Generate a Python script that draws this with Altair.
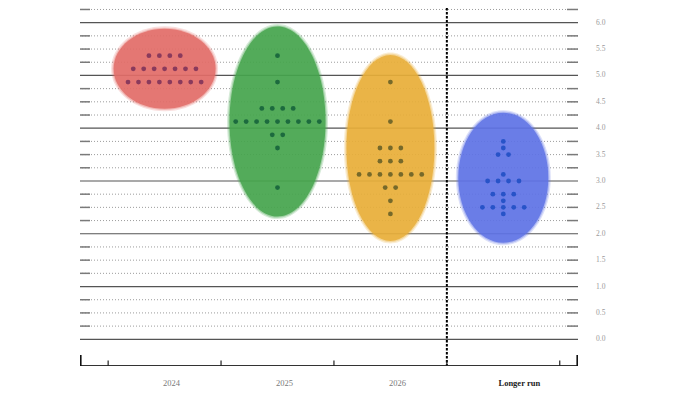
import altair as alt
import pandas as pd
import numpy as np

# ---------------- data ----------------
categories = ["2024", "2025", "2026", "Longer run"]

rates_2024 = [5.375, 5.125, 4.875]
counts_2024 = [4, 7, 8]

rates_2025 = [5.375, 4.875, 4.375, 4.125, 3.875, 3.625, 2.875]
counts_2025 = [1, 1, 4, 9, 2, 1, 1]

rates_2026 = [4.875, 4.125, 3.625, 3.375, 3.125, 2.875, 2.625, 2.375]
counts_2026 = [1, 1, 3, 3, 7, 2, 1, 1]

rates_lr = [3.75, 3.625, 3.5, 3.125, 3.0, 2.75, 2.625, 2.5, 2.375]
counts_lr = [1, 1, 2, 1, 4, 3, 1, 5, 1]

y_tick_labels = [0.0, 0.5, 1.0, 1.5, 2.0, 2.5, 3.0, 3.5, 4.0, 4.5, 5.0, 5.5, 6.0]

# ---------------- styles ----------------
ellipse_fill = ["#e26c67", "#45a44c", "#e8ae38", "#5e72e5"]
dot_color = ["#8a3a5c", "#1c6a3e", "#76692a", "#2753c8"]
ellipse_rx_px = [51, 48, 44, 45]
ellipse_ry_px = [40, 95, 93, 65]

UNIT_PX = 112.9          # pixels per category step
DOT_STEP_PX = 10.45      # horizontal spacing of dots
W, H = 498, 358
x_dom = [-0.7493, 3.6616]
y_dom = [-0.506, 6.278]

xs = alt.Scale(domain=x_dom, nice=False, zero=False)
ys = alt.Scale(domain=y_dom, nice=False, zero=False)

series = [(rates_2024, counts_2024), (rates_2025, counts_2025),
          (rates_2026, counts_2026), (rates_lr, counts_lr)]

# dots table
rows = []
for i, (rs, cs) in enumerate(series):
    for r, n in zip(rs, cs):
        for k in range(n):
            rows.append({"cat": categories[i],
                         "x": i + (k - (n - 1) / 2) * DOT_STEP_PX / UNIT_PX,
                         "rate": r, "color": dot_color[i]})
dots = pd.DataFrame(rows)


def ell_path(rx, ry):
    R = max(rx, ry)
    a, b = rx / R, ry / R
    return f"M {-a:.4f} 0 A {a:.4f} {b:.4f} 0 1 1 {a:.4f} 0 A {a:.4f} {b:.4f} 0 1 1 {-a:.4f} 0 Z"


erows = []
for i, (rs, cs) in enumerate(series):
    cy = (max(rs) + min(rs)) / 2
    rx, ry = ellipse_rx_px[i], ellipse_ry_px[i]
    for grow, op in [(2.5, 0.22), (1.2, 0.35), (0, 0.85)]:
        erows.append({"x": i, "y": cy, "fill": ellipse_fill[i], "op": op, "grow": grow,
                      "path": ell_path(rx + grow, ry + grow),
                      "size": (2 * (max(rx, ry) + grow)) ** 2})
ells = pd.DataFrame(erows)

# grid lines
grid_vals = np.arange(0, 6.26, 0.25)
grid = pd.DataFrame({"v": grid_vals, "solid": [float(v).is_integer() for v in grid_vals]})
dotted = grid[~grid["solid"]]
solid = grid[grid["solid"]]

dotted_layer = alt.Chart(dotted).mark_rule(color="#9c9c9c", strokeWidth=1, strokeDash=[1, 2]).encode(
    y=alt.Y("v:Q", scale=ys, axis=None))
solid_layer = alt.Chart(solid).mark_rule(color="#555555", strokeWidth=1.2).encode(
    y=alt.Y("v:Q", scale=ys, axis=None))
stub_l = alt.Chart(dotted).mark_rule(color="#7a7a7a", strokeWidth=1.5).encode(
    y=alt.Y("v:Q", scale=ys, axis=None), x=alt.value(0), x2=alt.value(10))
stub_r = alt.Chart(dotted).mark_rule(color="#7a7a7a", strokeWidth=1.5).encode(
    y=alt.Y("v:Q", scale=ys, axis=None), x=alt.value(W - 11), x2=alt.value(W))

ell_layer = alt.Chart(ells).mark_point(filled=True, strokeWidth=0).encode(
    x=alt.X("x:Q", scale=xs, axis=None), y=alt.Y("y:Q", scale=ys, axis=None),
    shape=alt.Shape("path:N", scale=None, legend=None),
    size=alt.Size("size:Q", scale=None, legend=None),
    color=alt.Color("fill:N", scale=None, legend=None),
    opacity=alt.Opacity("op:Q", scale=None, legend=None),
    order=alt.Order("grow:Q", sort="descending"))

divider = pd.DataFrame({"x": [len(categories) - 1.5]})
div_layer = alt.Chart(divider).mark_rule(color="black", strokeWidth=2, strokeDash=[2.5, 1.5]).encode(
    x=alt.X("x:Q", scale=xs, axis=None), y=alt.value(0), y2=alt.value(H))

dot_layer = alt.Chart(dots).mark_circle(size=23, opacity=1).encode(
    x=alt.X("x:Q", scale=xs, axis=None), y=alt.Y("rate:Q", scale=ys, axis=None),
    color=alt.Color("color:N", scale=None, legend=None))

base_line = alt.Chart(pd.DataFrame({"a": [0]})).mark_rule(color="#333333", strokeWidth=1.2).encode(
    y=alt.value(H - 0.5))

tick_pos = pd.DataFrame({"x": [i - 0.5 for i in range(len(categories) + 1)]})
ticks = alt.Chart(tick_pos).mark_rule(color="#222222", strokeWidth=1.2).encode(
    x=alt.X("x:Q", scale=xs, axis=None), y=alt.value(H - 5.5), y2=alt.value(H))
end_l = alt.Chart(pd.DataFrame({"a": [0]})).mark_rule(color="#111111", strokeWidth=1.6).encode(
    x=alt.value(0.8), y=alt.value(H - 11), y2=alt.value(H))
end_r = alt.Chart(pd.DataFrame({"a": [0]})).mark_rule(color="#111111", strokeWidth=1.6).encode(
    x=alt.value(W - 0.8), y=alt.value(H - 11), y2=alt.value(H))

# right-hand value labels
ylab = pd.DataFrame({"v": y_tick_labels, "t": [f"{v:.1f}" for v in y_tick_labels]})
ylab_layer = alt.Chart(ylab).mark_text(
    font="Liberation Serif", fontSize=7.5, color="#9a9a9a", align="left", baseline="middle").encode(
    y=alt.Y("v:Q", scale=ys, axis=None), x=alt.value(W + 18), text="t:N")

labels = pd.DataFrame({"cat": categories, "idx": list(range(len(categories)))})
year_lab = alt.Chart(labels[labels["idx"] < 3]).mark_text(
    font="Liberation Serif", fontSize=8.5, color="#7a7a7a", dx=7, baseline="alphabetic").encode(
    x=alt.X("idx:Q", scale=xs, axis=None), y=alt.value(377.5), text="cat:N")
lr_lab = alt.Chart(labels[labels["idx"] == 3]).mark_text(
    font="Liberation Serif", fontSize=8.5, color="#222222", fontWeight="bold", dx=16,
    baseline="alphabetic").encode(
    x=alt.X("idx:Q", scale=xs, axis=None), y=alt.value(377.5), text="cat:N")

chart = alt.layer(
    dotted_layer, solid_layer, stub_l, stub_r, ell_layer, div_layer, dot_layer,
    base_line, ticks, end_l, end_r, ylab_layer, year_lab, lr_lab
).properties(
    width=W, height=H,
    autosize=alt.AutoSizeParams(type="none"),
    padding={"left": 72, "top": 0, "right": 100, "bottom": 22},
).configure_view(stroke=None)

chart.save("out.html", embed_options={"renderer": "svg", "actions": False})
